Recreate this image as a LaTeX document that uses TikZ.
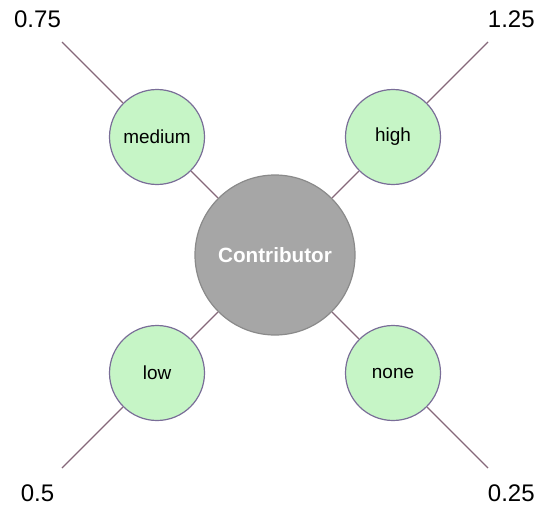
\documentclass[tikz,border=0pt]{standalone}
\usepackage{fontspec}
\setmainfont{Liberation Sans}
\definecolor{leaf}{HTML}{C6F5C6}
\definecolor{leafline}{HTML}{7A6E98}
\definecolor{edge}{HTML}{86687A}
\definecolor{hub}{HTML}{A6A6A6}
\definecolor{hubline}{HTML}{8A8A8A}
\begin{document}
\begin{tikzpicture}[x=0.75pt,y=-0.75pt,
  leafnode/.style={circle,draw=leafline,fill=leaf,line width=0.9pt,minimum size=71.25pt,inner sep=0pt,font=\fontsize{14.2}{17}\selectfont},
  hubnode/.style={circle,draw=hubline,fill=hub,line width=0.9pt,minimum size=120pt,inner sep=0pt,text=white,font=\fontsize{15.5}{18}\selectfont\bfseries},
  conn/.style={draw=edge,line width=0.9pt},
  val/.style={inner sep=0pt,font=\fontsize{18}{21}\selectfont}]
\useasboundingbox (0,0) rectangle (538,510);
\node[hubnode] (C) at (275,255) {Contributor};
\node[leafnode] (m) at (157,137) {medium};
\node[leafnode] (h) at (393,137) {high};
\node[leafnode] (l) at (157,373) {low};
\node[leafnode] (n) at (393,373) {none};
\coordinate (em) at (62,42);
\coordinate (eh) at (488,42);
\coordinate (el) at (62,468);
\coordinate (en) at (488,468);
\node[val] (vm) at (37.5,19) {0.75};
\node[val] (vh) at (511.3,19) {1.25};
\node[val] (vl) at (37.5,493.7) {0.5};
\node[val] (vn) at (511.3,493.7) {0.25};
\draw[conn] (C) -- (m);
\draw[conn] (C) -- (h);
\draw[conn] (C) -- (l);
\draw[conn] (C) -- (n);
\draw[conn] (m) -- (em);
\draw[conn] (h) -- (eh);
\draw[conn] (l) -- (el);
\draw[conn] (n) -- (en);
\end{tikzpicture}
\end{document}
